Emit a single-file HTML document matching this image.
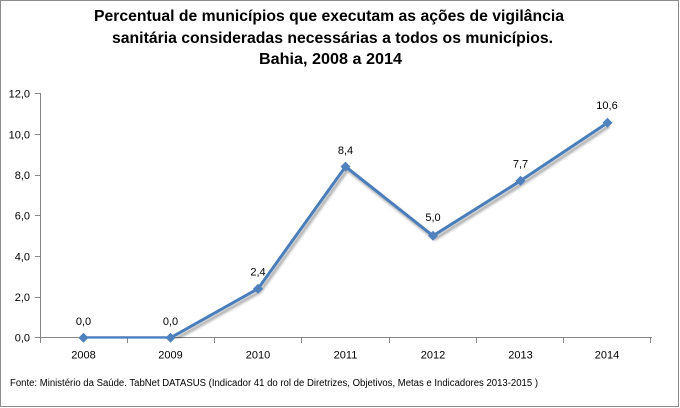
<!DOCTYPE html>
<html>
<head>
<meta charset="utf-8">
<style>
  html, body { margin:0; padding:0; background:#fff; }
  svg { display:block; }
  text { font-family: "Liberation Sans", "DejaVu Sans", sans-serif; }
</style>
</head>
<body>
<svg width="680" height="408" viewBox="0 0 680 408" xmlns="http://www.w3.org/2000/svg">
  <defs>
    <filter id="sh" x="-10%" y="-10%" width="120%" height="130%">
      <feDropShadow dx="2" dy="3" stdDeviation="1.4" flood-color="#000" flood-opacity="0.35"/>
    </filter>
    <clipPath id="plot">
      <rect x="40" y="80" width="620" height="258.6"/>
    </clipPath>
  </defs>
  <rect x="0" y="0" width="680" height="408" fill="#fff"/>
  <rect x="0.5" y="0.5" width="678" height="406" fill="none" stroke="#8c8c8c" stroke-width="1"/>

  <!-- Title -->
  <g font-weight="bold" font-size="16" fill="#000">
    <text x="94" y="21" textLength="470" lengthAdjust="spacingAndGlyphs">Percentual de municípios que executam as ações de vigilância</text>
    <text x="112" y="43" textLength="441" lengthAdjust="spacingAndGlyphs">sanitária consideradas necessárias a todos os municípios.</text>
    <text x="259" y="64" textLength="143" lengthAdjust="spacingAndGlyphs">Bahia, 2008 a 2014</text>
  </g>

  <!-- Axes -->
  <g stroke="#868686" stroke-width="1" fill="none">
    <line x1="40.5" y1="93" x2="40.5" y2="338"/>
    <line x1="40" y1="337.5" x2="652" y2="337.5"/>
    <line x1="35" y1="93.5" x2="40" y2="93.5"/>
    <line x1="35" y1="134.5" x2="40" y2="134.5"/>
    <line x1="35" y1="175.5" x2="40" y2="175.5"/>
    <line x1="35" y1="215.5" x2="40" y2="215.5"/>
    <line x1="35" y1="256.5" x2="40" y2="256.5"/>
    <line x1="35" y1="297.5" x2="40" y2="297.5"/>
    <line x1="35" y1="337.5" x2="40" y2="337.5"/>
    <line x1="40.5" y1="338" x2="40.5" y2="343"/>
    <line x1="127.5" y1="338" x2="127.5" y2="343"/>
    <line x1="214.5" y1="338" x2="214.5" y2="343"/>
    <line x1="301.5" y1="338" x2="301.5" y2="343"/>
    <line x1="389.5" y1="338" x2="389.5" y2="343"/>
    <line x1="476.5" y1="338" x2="476.5" y2="343"/>
    <line x1="563.5" y1="338" x2="563.5" y2="343"/>
    <line x1="650.5" y1="338" x2="650.5" y2="343"/>
  </g>

  <!-- Y labels -->
  <g font-size="11" fill="#000" text-anchor="end">
    <text x="30" y="97.5">12,0</text>
    <text x="30" y="138.5">10,0</text>
    <text x="30" y="179">8,0</text>
    <text x="30" y="219.5">6,0</text>
    <text x="30" y="260.5">4,0</text>
    <text x="30" y="301">2,0</text>
    <text x="30" y="341.5">0,0</text>
  </g>

  <!-- X labels -->
  <g font-size="11" fill="#000" text-anchor="middle">
    <text x="83.5" y="358.5">2008</text>
    <text x="170.5" y="358.5">2009</text>
    <text x="258" y="358.5">2010</text>
    <text x="345.5" y="358.5">2011</text>
    <text x="433" y="358.5">2012</text>
    <text x="520.5" y="358.5">2013</text>
    <text x="607" y="358.5">2014</text>
  </g>

  <!-- Series -->
  <g clip-path="url(#plot)">
    <polyline filter="url(#sh)" points="83.5,337.8 170.5,337.8 258,288.7 345.5,166.6 433,235.8 520.5,180.8 607.5,122.8"
              fill="none" stroke="#4a7ebb" stroke-width="3" stroke-linejoin="round"/>
  </g>
  <g fill="#4f81bd">
    <polygon points="83.5,332.8 88.5,337.8 83.5,342.8 78.5,337.8"/>
    <polygon points="170.5,332.8 175.5,337.8 170.5,342.8 165.5,337.8"/>
    <polygon points="258,283.7 263,288.7 258,293.7 253,288.7"/>
    <polygon points="345.5,161.6 350.5,166.6 345.5,171.6 340.5,166.6"/>
    <polygon points="433,230.8 438,235.8 433,240.8 428,235.8"/>
    <polygon points="520.5,175.8 525.5,180.8 520.5,185.8 515.5,180.8"/>
    <polygon points="607.5,117.8 612.5,122.8 607.5,127.8 602.5,122.8"/>
  </g>

  <!-- Data labels -->
  <g font-size="11" fill="#000" text-anchor="middle">
    <text x="83.5" y="325">0,0</text>
    <text x="170.5" y="325">0,0</text>
    <text x="258" y="275.5">2,4</text>
    <text x="345.5" y="154">8,4</text>
    <text x="433" y="221">5,0</text>
    <text x="520.5" y="167.5">7,7</text>
    <text x="607" y="109">10,6</text>
  </g>

  <!-- Footer -->
  <text x="10" y="386" font-size="10" fill="#000" textLength="528" lengthAdjust="spacingAndGlyphs">Fonte: Ministério da Saúde. TabNet DATASUS (Indicador 41 do rol de Diretrizes, Objetivos, Metas e Indicadores 2013-2015 )</text>
</svg>
</body>
</html>
